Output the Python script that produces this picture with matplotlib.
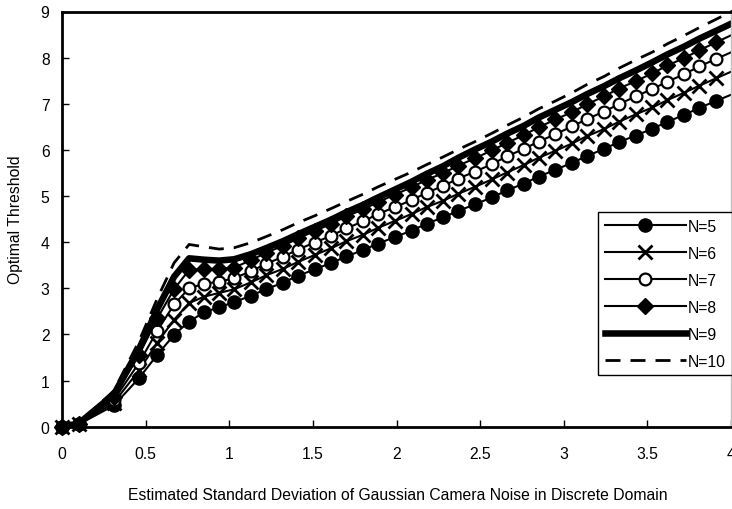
import matplotlib
matplotlib.use('Agg')
import matplotlib.pyplot as plt

plt.rcParams['font.family'] = ['Liberation Sans', 'DejaVu Sans']

# estimated camera noise std (x); last point lies just past the axis end
sigma = [0, 0.1, 0.31, 0.46, 0.57, 0.67, 0.76, 0.85, 0.94,
         1.03, 1.13, 1.22, 1.32, 1.41, 1.51, 1.61, 1.70, 1.80, 1.89,
         1.99, 2.09, 2.18, 2.28, 2.37, 2.47, 2.57, 2.66, 2.76, 2.85,
         2.95, 3.05, 3.14, 3.24, 3.33, 3.43, 3.53, 3.62, 3.72, 3.81,
         3.91, 4.01]

thr_n5 = [0, 0.05, 0.46, 1.05, 1.56, 1.99, 2.28, 2.48, 2.59,
          2.70, 2.84, 2.98, 3.12, 3.27, 3.41, 3.55, 3.69, 3.83, 3.97,
          4.11, 4.25, 4.40, 4.54, 4.68, 4.82, 4.97, 5.12, 5.27, 5.42,
          5.57, 5.72, 5.87, 6.02, 6.17, 6.31, 6.46, 6.61, 6.76, 6.91,
          7.06, 7.21]
thr_n6 = [0, 0.05, 0.52, 1.22, 1.82, 2.32, 2.68, 2.82, 2.90,
          2.98, 3.13, 3.28, 3.42, 3.57, 3.72, 3.87, 4.02, 4.16, 4.31,
          4.46, 4.61, 4.76, 4.90, 5.05, 5.20, 5.36, 5.51, 5.67, 5.83,
          5.98, 6.14, 6.30, 6.45, 6.61, 6.77, 6.92, 7.08, 7.24, 7.39,
          7.55, 7.71]
thr_n7 = [0, 0.06, 0.58, 1.38, 2.08, 2.65, 3.00, 3.10, 3.14,
          3.22, 3.37, 3.53, 3.68, 3.84, 3.99, 4.14, 4.30, 4.45, 4.61,
          4.76, 4.91, 5.07, 5.22, 5.38, 5.53, 5.69, 5.86, 6.02, 6.18,
          6.34, 6.51, 6.67, 6.83, 6.99, 7.16, 7.32, 7.48, 7.64, 7.81,
          7.97, 8.13]
thr_n8 = [0, 0.06, 0.64, 1.55, 2.35, 2.98, 3.40, 3.42, 3.42,
          3.45, 3.61, 3.77, 3.92, 4.08, 4.24, 4.40, 4.56, 4.71, 4.87,
          5.03, 5.19, 5.35, 5.50, 5.66, 5.82, 5.99, 6.15, 6.32, 6.49,
          6.66, 6.82, 6.99, 7.16, 7.33, 7.49, 7.66, 7.83, 7.99, 8.16,
          8.33, 8.50]
thr_n9 = [0, 0.07, 0.70, 1.68, 2.55, 3.25, 3.65, 3.62, 3.60,
          3.63, 3.74, 3.87, 4.02, 4.17, 4.33, 4.49, 4.65, 4.81, 4.97,
          5.14, 5.31, 5.48, 5.65, 5.83, 6.01, 6.18, 6.35, 6.52, 6.70,
          6.87, 7.04, 7.21, 7.38, 7.55, 7.72, 7.90, 8.07, 8.24, 8.41,
          8.58, 8.75]
thr_n10 = [0, 0.08, 0.78, 1.85, 2.78, 3.55, 3.95, 3.90, 3.85,
           3.88, 3.99, 4.12, 4.27, 4.42, 4.57, 4.73, 4.88, 5.04, 5.20,
           5.36, 5.52, 5.68, 5.85, 6.01, 6.18, 6.36, 6.53, 6.71, 6.89,
           7.06, 7.24, 7.42, 7.59, 7.77, 7.95, 8.12, 8.30, 8.48, 8.65,
           8.83, 9.01]

labels = ['N=5', 'N=6', 'N=7', 'N=8', 'N=9', 'N=10']

fig = plt.figure(figsize=(7.32, 5.10), dpi=100)
ax = fig.add_axes([62/732, 1-427.7/510, 669/732, 415.2/510])

mk = slice(0, len(sigma) - 1)
ax.plot(sigma, thr_n5, color='black', lw=1.5, marker='o', ms=9.5,
        markevery=mk, clip_on=False, label=labels[0])
ax.plot(sigma, thr_n6, color='black', lw=1.5, marker='x', ms=10.5, mew=2,
        markevery=mk, clip_on=False, label=labels[1])
ax.plot(sigma, thr_n7, color='black', lw=1.5, marker='o', ms=8.5, mew=1.6,
        mfc='white', markevery=mk, clip_on=False, label=labels[2])
ax.plot(sigma, thr_n8, color='black', lw=1.5, marker='D', ms=8.5,
        markevery=mk, clip_on=False, label=labels[3])
ax.plot(sigma, thr_n9, color='black', lw=4.7, clip_on=False, label=labels[4])
ax.plot(sigma, thr_n10, color='black', lw=2, dashes=(5.4, 3.6),
        clip_on=False, label=labels[5])

ax.set_xlim(0, 4)
ax.set_ylim(0, 9)
ax.set_xticks([0, 0.5, 1, 1.5, 2, 2.5, 3, 3.5, 4])
ax.set_xticklabels(['0', '0.5', '1', '1.5', '2', '2.5', '3', '3.5', '4'])
ax.set_yticks(range(10))
ax.tick_params(axis='x', direction='in', length=5, width=1, pad=14, labelsize=11.3)
ax.tick_params(axis='y', direction='in', length=5, width=1, pad=9, labelsize=11.3)
for s in ['left', 'bottom', 'top']:
    ax.spines[s].set_linewidth(2)
ax.spines['right'].set_color('#c0c0c0')
ax.spines['right'].set_linewidth(1)

fig.text(398/732, 1-496/510,
         'Estimated Standard Deviation of Gaussian Camera Noise in Discrete Domain',
         ha='center', va='center', fontsize=11.3)
fig.text(16/732, 1-220/510, 'Optimal Threshold', rotation=90,
         ha='center', va='center', fontsize=11.3)

leg = ax.legend(loc='upper left', bbox_to_anchor=(598/732, 1-213.3/510),
                bbox_transform=fig.transFigure, borderaxespad=0,
                fontsize=11.3, handlelength=5.2, handletextpad=0.1,
                labelspacing=0.76, borderpad=0.42, fancybox=False,
                framealpha=1, edgecolor='black')
leg.get_frame().set_linewidth(1)

fig.savefig('out.png', dpi=100)
